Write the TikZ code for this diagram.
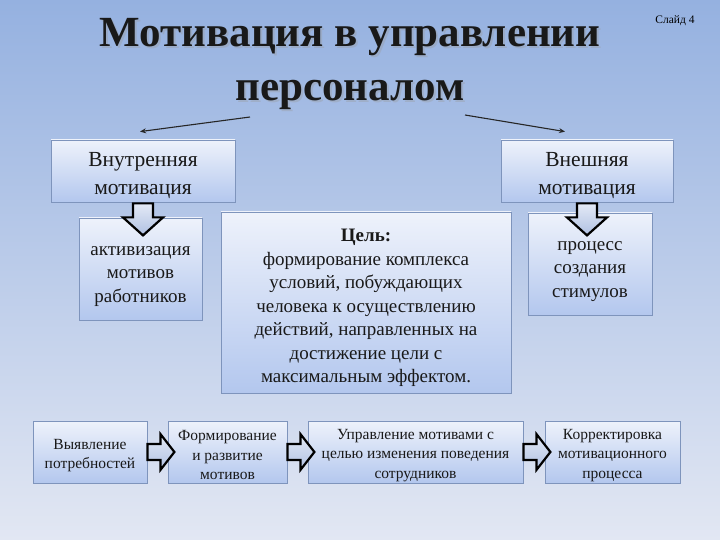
\documentclass[tikz,border=0pt]{standalone}
\usepackage{fontspec}
\setmainfont{Liberation Serif}
\usetikzlibrary{calc,arrows.meta}

\definecolor{bgtop}{HTML}{95B1E0}
\definecolor{bgbot}{HTML}{E2E7F3}
\definecolor{boxtop}{HTML}{EEF2FB}
\definecolor{boxbot}{HTML}{B3C7EE}
\definecolor{boxline}{HTML}{7E94BC}
\definecolor{arrtop}{HTML}{E4EAF6}
\definecolor{arrbot}{HTML}{AFC0E2}

\tikzset{
  box/.style={draw=boxline, line width=0.8pt, top color=boxtop, bottom color=boxbot,
    align=center, inner sep=0pt, text=black!90},
  topbox/.style={box, minimum height=62pt, font=\fontsize{21.5}{28}\selectfont},
  midbox/.style={box, font=\fontsize{19}{23.5}\selectfont},
  lowbox/.style={box, minimum height=62pt, font=\fontsize{15.5}{19.5}\selectfont},
  blockarr/.style={draw=black, line width=2.2pt, line join=miter, top color=arrtop, bottom color=arrbot},
  thinarr/.style={draw=black!85, line width=1.1pt, -{Stealth[length=6pt, width=5pt]}}
}

% first-line struts push the text a little down in its box
\newcommand{\bigstrut}{\rule{0pt}{24pt}}
\newcommand{\lowstrut}{\rule{0pt}{17pt}}
\newcommand{\arrowdown}[1]{\draw[blockarr] #1 ++(-10,0) -- ++(0,14) -- ++(-10,0) -- ++(20,18) -- ++(20,-18) -- ++(-10,0) -- ++(0,-14) -- cycle;}
\newcommand{\arrowright}[1]{\draw[blockarr] #1 ++(0,-8) -- ++(13,0) -- ++(0,-10) -- ++(14,18) -- ++(-14,18) -- ++(0,-10) -- ++(-13,0) -- cycle;}

\begin{document}
\begin{tikzpicture}[x=1pt, y=-1pt]
\useasboundingbox (0,0) rectangle (720,540);
\fill[top color=bgtop, bottom color=bgbot] (0,0) rectangle (720,540);

% title
\node[text=black!40, opacity=0.35, align=center, font=\fontsize{43}{54}\selectfont\bfseries] (titleshadow) at (352,66.5) {Мотивация в управлении\\персоналом};
\node[text=black!90, align=center, font=\fontsize{43}{54}\selectfont\bfseries] (title) at (350,64.5) {Мотивация в управлении\\персоналом};
\node[font=\fontsize{11.5}{13}\selectfont] (slide) at (675,21) {Слайд 4};

% upper part
\node[topbox, minimum width=184pt] (inner) at (143,171) {\bigstrut Внутренняя\\мотивация};
\node[topbox, minimum width=172pt] (outer) at (587,171) {\bigstrut Внешняя\\мотивация};
\node[midbox, minimum width=123pt, minimum height=102pt] (activ) at (140.5,269) {\bigstrut активизация\\мотивов\\работников};
\node[midbox, minimum width=124pt, minimum height=102pt] (stimul) at (590,264) {\bigstrut процесс\\создания\\стимулов};
\node[midbox, minimum width=290pt, minimum height=181pt] (goal) at (366,302.5) {\bigstrut\textbf{Цель:}\\формирование комплекса\\условий, побуждающих\\человека к осуществлению\\действий, направленных на\\достижение цели с\\максимальным эффектом.};

\coordinate (tl) at (250,117);
\coordinate (tr) at (465,115);
\draw[thinarr] (tl) -- ([xshift=-3pt, yshift=8pt]inner.north);
\draw[thinarr] (tr) -- ([xshift=-22pt, yshift=8pt]outer.north);

\arrowdown{([yshift=-1pt]inner.south)}
\arrowdown{([yshift=-1pt]outer.south)}

% lower row
\node[lowbox, minimum width=114pt] (need) at (90,452) {\lowstrut Выявление\\потребностей};
\node[lowbox, minimum width=119pt] (form) at (227.5,452) {\lowstrut Формирование\\и развитие\\мотивов};
\node[lowbox, minimum width=215pt] (manage) at (415.5,452) {\lowstrut Управление мотивами с\\целью изменения поведения\\сотрудников};
\node[lowbox, minimum width=135pt] (correct) at (612.5,452) {\lowstrut Корректировка\\мотивационного\\процесса};

\arrowright{(need.east)}
\arrowright{(form.east)}
\arrowright{(manage.east)}
\end{tikzpicture}
\end{document}
